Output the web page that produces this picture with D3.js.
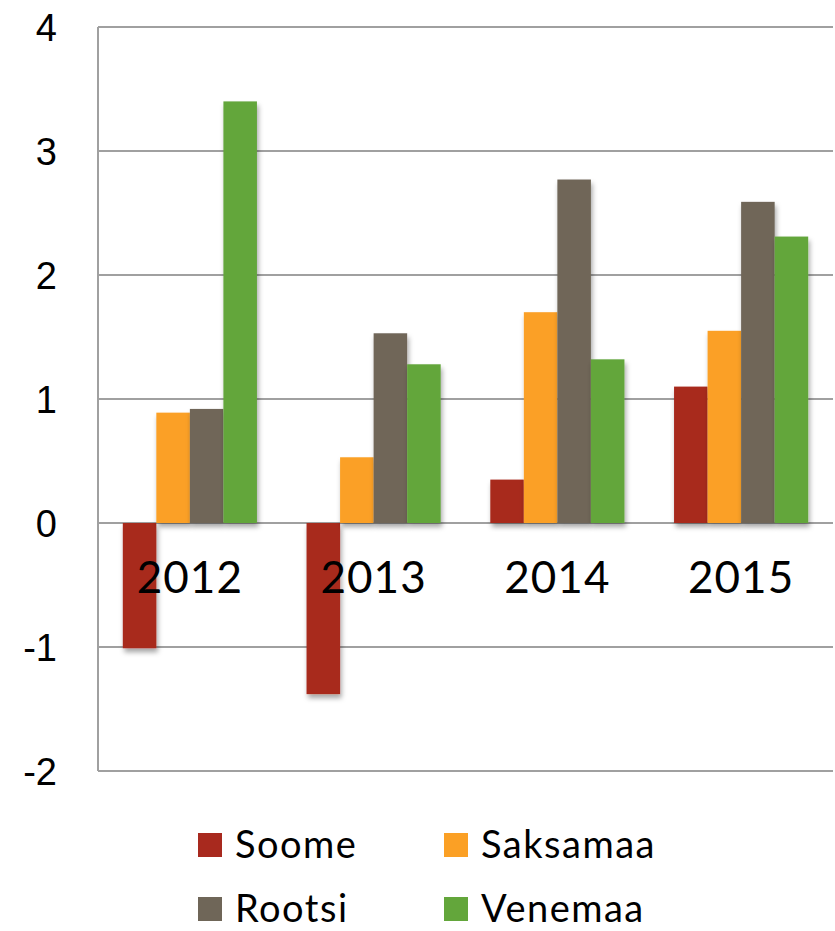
<!DOCTYPE html>
<html lang="et">
  <head>
    <meta charset="utf-8">
    <title>Soome, Saksamaa, Rootsi, Venemaa 2012-2015</title>
    <script type="text/javascript" src="https://d3js.org/d3.v7.min.js"></script>
    <style>
      body {
        margin: 0;
        background: #ffffff;
        font-family: 'Lato', 'Open Sans', sans-serif;
      }
      .grid line,
      .y-axis path {
        stroke: #a0a0a0;
        stroke-width: 2;
      }
      .y-axis text {
        font-size: 38px;
        fill: #000000;
      }
      .cat-label {
        font-size: 44px;
        letter-spacing: 1px;
        fill: #000000;
      }
      .legend-text {
        font-size: 38px;
        letter-spacing: 1.5px;
        fill: #000000;
      }
    </style>
  </head>
  <body>
    <div id="chart"></div>

    <script type="text/javascript">

      // data
      var years = ['2012', '2013', '2014', '2015'];
      var countries = ['Soome', 'Saksamaa', 'Rootsi', 'Venemaa'];
      var soome    = [-1.01, -1.38, 0.35, 1.10];
      var saksamaa = [0.89, 0.53, 1.70, 1.55];
      var rootsi   = [0.92, 1.53, 2.77, 2.59];
      var venemaa  = [3.40, 1.28, 1.32, 2.31];
      var yTicks = [-2, -1, 0, 1, 2, 3, 4];
      var colors = ['#a8291e', '#fba025', '#6f6658', '#63a63b'];

      var seriesValues = [soome, saksamaa, rootsi, venemaa];

      var w = 835;
      var h = 931;

      var svg = d3.select('#chart')
        .append('svg')
          .attr('width', w)
          .attr('height', h);

      // soft shadow under the bars
      var defs = svg.append('defs');
      var shadow = defs.append('filter')
        .attr('id', 'bar-shadow')
        .attr('x', '-20%').attr('y', '-10%')
        .attr('width', '150%').attr('height', '130%');
      shadow.append('feDropShadow')
        .attr('dx', 1.5)
        .attr('dy', 4)
        .attr('stdDeviation', 2.5)
        .attr('flood-color', '#000000')
        .attr('flood-opacity', 0.35);

      var x0 = d3.scaleBand()
        .domain(years)
        .range([98, 833])
        .paddingInner(0.27)
        .paddingOuter(0.135);

      var x1 = d3.scaleBand()
        .domain(countries)
        .range([0, x0.bandwidth()]);

      var y = d3.scaleLinear()
        .domain([-2, 4])
        .range([771, 27]);

      // gridlines
      svg.append('g')
        .attr('class', 'grid')
        .selectAll('line')
        .data(yTicks)
        .enter()
        .append('line')
          .attr('x1', 98)
          .attr('x2', 833)
          .attr('y1', function(d) { return y(d); })
          .attr('y2', function(d) { return y(d); });

      // y axis (plain hyphen for negatives, like the original)
      var yAxis = svg.append('g')
        .attr('class', 'y-axis')
        .attr('transform', 'translate(98, 0)')
        .call(d3.axisLeft(y).tickValues(yTicks).tickSize(0).tickPadding(41)
          .tickFormat(function(d) { return d < 0 ? '-' + Math.abs(d) : String(d); }));
      yAxis.select('.domain').attr('d', 'M0,' + y(4) + 'V' + y(-2));
      yAxis.selectAll('text').attr('dy', '0.36em');

      // bars
      var groups = svg.selectAll('.year-group')
        .data(years)
        .enter()
        .append('g')
          .attr('class', 'year-group')
          .attr('transform', function(d) { return 'translate(' + x0(d) + ', 0)'; });

      groups.selectAll('rect')
        .data(function(d, i) {
          return countries.map(function(c, j) {
            return { country: c, value: seriesValues[j][i], color: colors[j] };
          });
        })
        .enter()
        .append('rect')
          .attr('x', function(d) { return x1(d.country); })
          .attr('y', function(d) { return y(Math.max(0, d.value)); })
          .attr('width', x1.bandwidth())
          .attr('height', function(d) { return Math.abs(y(d.value) - y(0)); })
          .attr('fill', function(d) { return d.color; })
          .attr('filter', 'url(#bar-shadow)');

      // category labels, drawn over the bars
      svg.selectAll('.cat-label')
        .data(years)
        .enter()
        .append('text')
          .attr('class', 'cat-label')
          .attr('x', function(d) { return x0(d) + x0.bandwidth() / 2; })
          .attr('y', 593)
          .attr('text-anchor', 'middle')
          .text(function(d) { return d; });

      // legend, two columns
      var legend = svg.selectAll('.legend-item')
        .data(countries)
        .enter()
        .append('g')
          .attr('class', 'legend-item')
          .attr('transform', function(d, i) {
            return 'translate(' + (198 + (i % 2) * 246) + ',' + (833 + Math.floor(i / 2) * 64) + ')';
          });

      legend.append('rect')
        .attr('width', 24)
        .attr('height', 24)
        .attr('fill', function(d, i) { return colors[i]; });

      legend.append('text')
        .attr('class', 'legend-text')
        .attr('x', 37)
        .attr('y', 25)
        .text(function(d) { return d; });

    </script>
  </body>
</html>
